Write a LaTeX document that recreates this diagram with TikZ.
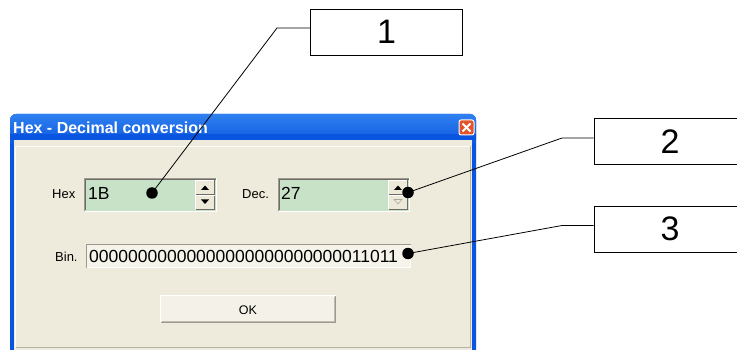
\documentclass[tikz,border=0pt]{standalone}
\usepackage{fontspec}
\setmainfont{Liberation Sans}
\definecolor{xpblue}{HTML}{0A55DF}
\definecolor{xpbluelight}{HTML}{2F80F0}
\definecolor{panel}{HTML}{EEEBDC}
\definecolor{fieldgreen}{HTML}{C8E2C8}
\definecolor{edgegrey}{HTML}{9C9A90}
\definecolor{edgedark}{HTML}{6E6C64}
\definecolor{btnface}{HTML}{ECE9D8}
\definecolor{closered}{HTML}{E2552C}
\begin{document}
\begin{tikzpicture}[x=1pt,y=-1pt,
  callout/.style={draw=black, line width=0.9pt, fill=white, minimum width=152pt,
    minimum height=46pt, inner sep=0pt, font=\fontsize{34}{36}\selectfont},
  dot/.style={circle, fill=black, minimum size=11.5pt, inner sep=0pt},
  leader/.style={draw=black, line width=0.8pt},
  lbl/.style={font=\fontsize{13}{15}\selectfont, inner sep=0pt},
  val/.style={font=\fontsize{17.5}{19}\selectfont, inner sep=0pt, anchor=west},
  spin/.style={fill=btnface},
  tri/.style={fill=black}]
\useasboundingbox (0,0) rectangle (737,350);
\clip (0,0) rectangle (737,350);

% window frame and title bar
\fill[xpblue, rounded corners=6pt] (10,114) rectangle (476,380);
\shade[top color=xpbluelight, bottom color=xpblue, rounded corners=6pt]
  (10,114) rectangle (476,146);
\fill[xpblue] (10,134) rectangle (476,140);
\fill[panel] (14,140) rectangle (472,360);
\draw[white!85!panel, line width=1pt] (15.5,347.5) -- (15.5,146.5) -- (470.5,146.5);
\draw[edgegrey!70!panel, line width=1pt] (15.5,347.5) -- (470.5,347.5) -- (470.5,146.5);
\node[anchor=west, text=white, inner sep=0pt,
  font=\bfseries\fontsize{16}{18}\selectfont] (title) at (13,127.5) {Hex - Decimal conversion};

% close button
\node[draw=white, line width=1pt, fill=closered, rounded corners=2pt,
  minimum size=15pt, inner sep=0pt] (close) at (466.5,127.5) {};
\draw[white, line width=2pt] (462.5,123.5) -- (470.5,131.5)
  (470.5,123.5) -- (462.5,131.5);

% Hex field with spin buttons
\node[lbl, anchor=west] (hexl) at (52,194) {Hex};
\fill[fieldgreen] (84,178) rectangle (217,212);
\draw[edgegrey, line width=1pt] (84.5,211.5) -- (84.5,178.5) -- (216.5,178.5);
\draw[edgedark, line width=1pt] (85.5,210.5) -- (85.5,179.5) -- (215.5,179.5);
\draw[white, line width=1pt] (84.5,211.5) -- (216.5,211.5) -- (216.5,178.5);
\node[val] (hexv) at (88,193.5) {1B};
\fill[spin] (195,180) rectangle (215,210);
\draw[white, line width=1pt] (195.5,209.5) -- (195.5,180.5) -- (214.5,180.5);
\draw[edgedark, line width=1pt] (195.5,194.5) -- (214.5,194.5) -- (214.5,180.5)
  (195.5,209.5) -- (214.5,209.5) -- (214.5,195.5);
\draw[white, line width=1pt] (195.5,195.5) -- (214.5,195.5);
\fill[tri] (201,190) -- (209,190) -- (205,185.5) -- cycle;
\fill[tri] (201,199.5) -- (209,199.5) -- (205,204) -- cycle;

% Dec field with spin buttons
\node[lbl, anchor=west] (decl) at (242,194) {Dec.};
\fill[fieldgreen] (278,178) rectangle (410,212);
\draw[edgegrey, line width=1pt] (278.5,211.5) -- (278.5,178.5) -- (409.5,178.5);
\draw[edgedark, line width=1pt] (279.5,210.5) -- (279.5,179.5) -- (408.5,179.5);
\draw[white, line width=1pt] (278.5,211.5) -- (409.5,211.5) -- (409.5,178.5);
\node[val] (decv) at (281,193.5) {27};
\fill[spin] (388,180) rectangle (408,210);
\draw[white, line width=1pt] (388.5,209.5) -- (388.5,180.5) -- (407.5,180.5);
\draw[edgedark, line width=1pt] (388.5,194.5) -- (407.5,194.5) -- (407.5,180.5)
  (388.5,209.5) -- (407.5,209.5) -- (407.5,195.5);
\draw[white, line width=1pt] (388.5,195.5) -- (407.5,195.5);
\fill[tri] (394,190) -- (402,190) -- (398,185.5) -- cycle;
\draw[edgegrey!80!panel, line width=0.6pt] (394,199.5) -- (402,199.5) -- (398,204) -- cycle;

% Bin field
\node[lbl, anchor=west] (binl) at (55,256.5) {Bin.};
\fill[panel!60!white] (86,244) rectangle (411,268);
\draw[edgegrey, line width=1pt] (86.5,267.5) -- (86.5,244.5) -- (410.5,244.5);
\draw[white, line width=1pt] (86.5,267.5) -- (410.5,267.5) -- (410.5,244.5);
\node[val] (binv) at (89,256.5) {00000000000000000000000000011011};

% OK button
\fill[btnface!60!white] (160,295) rectangle (336,323);
\draw[white, line width=1pt] (160.5,322.5) -- (160.5,295.5) -- (335.5,295.5);
\draw[edgegrey, line width=1pt] (160.5,322.5) -- (335.5,322.5) -- (335.5,295.5);
\draw[edgegrey!60!panel, line width=1pt] (161.5,321.5) -- (334.5,321.5) -- (334.5,296.5);
\node[lbl, font=\fontsize{12.5}{14}\selectfont] (ok) at (248,310) {OK};

% callout markers
\node[dot] (d1) at (152,193) {};
\node[dot] (d2) at (408,192.5) {};
\node[dot] (d3) at (408,253.5) {};

% callout boxes
\node[callout] (c1) at (386.5,32) {1};
\node[callout] (c2) at (670,141.5) {2};
\node[callout] (c3) at (670,229) {3};

% leader lines
\coordinate (k1) at (277,28);
\coordinate (k2) at (562,138);
\coordinate (k3) at (562,225.5);
\draw[leader] (c1.west |- k1) -- (k1) -- (d1.center);
\draw[leader] (c2.west |- k2) -- (k2) -- (d2.center);
\draw[leader] (c3.west |- k3) -- (k3) -- (d3.center);
\end{tikzpicture}
\end{document}
